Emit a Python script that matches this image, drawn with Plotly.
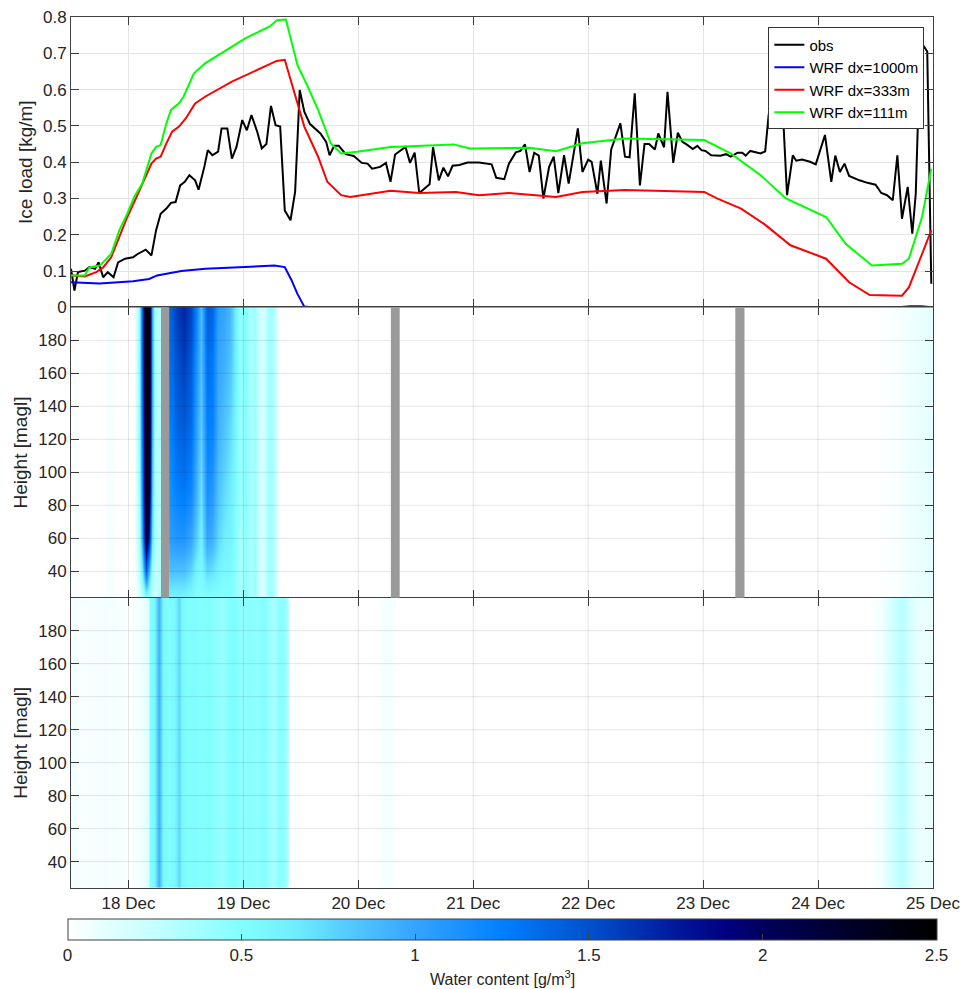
import numpy as np
import plotly.graph_objects as go
from plotly.subplots import make_subplots

# ---------------- axis ticks ----------------
day_ticks = [18, 19, 20, 21, 22, 23, 24, 25]
day_labels = ["18 Dec", "19 Dec", "20 Dec", "21 Dec", "22 Dec", "23 Dec", "24 Dec", "25 Dec"]
load_ticks = [0, 0.1, 0.2, 0.3, 0.4, 0.5, 0.6, 0.7, 0.8]
height_ticks = [40, 60, 80, 100, 120, 140, 160, 180]
wc_ticks = [0, 0.5, 1, 1.5, 2, 2.5]

# ---------------- ice load (time in days of December) ----------------
obs_t = [17.50, 17.53, 17.56, 17.62, 17.66, 17.71, 17.74, 17.78, 17.82, 17.87, 17.91, 17.97,
         18.04, 18.08, 18.15, 18.20, 18.24, 18.28, 18.33, 18.37, 18.41, 18.45, 18.49, 18.53,
         18.58, 18.61, 18.66, 18.69, 18.73, 18.78, 18.81, 18.86, 18.90, 18.94, 18.99, 19.03,
         19.07, 19.12, 19.16, 19.20, 19.24, 19.28, 19.32, 19.36, 19.41, 19.45, 19.49, 19.53,
         19.58, 19.62, 19.67, 19.72, 19.75, 19.79, 19.83, 19.89, 19.96, 20.03, 20.08, 20.12,
         20.19, 20.24, 20.28, 20.32, 20.41, 20.45, 20.49, 20.53, 20.62, 20.65, 20.70, 20.74,
         20.78, 20.82, 20.88, 20.95, 21.05, 21.16, 21.20, 21.27, 21.31, 21.37, 21.41, 21.45,
         21.49, 21.53, 21.57, 21.61, 21.66, 21.70, 21.74, 21.79, 21.83, 21.91, 21.95, 22.00,
         22.03, 22.08, 22.11, 22.16, 22.20, 22.28, 22.32, 22.36, 22.405, 22.45, 22.49, 22.53,
         22.58, 22.61, 22.66, 22.69, 22.74, 22.78, 22.82, 22.865, 22.91, 22.95, 22.985, 23.02,
         23.07, 23.15, 23.20, 23.24, 23.30, 23.34, 23.37, 23.41, 23.50, 23.54, 23.57, 23.61,
         23.655, 23.70, 23.73, 23.78, 23.81, 23.86, 23.93, 23.98, 24.06, 24.115, 24.15, 24.19,
         24.23, 24.27, 24.36, 24.43, 24.50, 24.55, 24.60, 24.65, 24.69, 24.73, 24.78, 24.82,
         24.85, 24.89, 24.95, 24.985]
obs_v = [0.106, 0.046, 0.097, 0.101, 0.111, 0.106, 0.124, 0.083, 0.097, 0.083, 0.124, 0.134,
         0.138, 0.147, 0.159, 0.143, 0.212, 0.258, 0.272, 0.288, 0.290, 0.336, 0.346, 0.364,
         0.350, 0.324, 0.387, 0.433, 0.419, 0.429, 0.493, 0.493, 0.410, 0.442, 0.516, 0.488,
         0.530, 0.484, 0.438, 0.450, 0.555, 0.502, 0.498, 0.267, 0.240, 0.318, 0.599, 0.539,
         0.505, 0.493, 0.479, 0.456, 0.419, 0.445, 0.445, 0.422, 0.417, 0.398, 0.396, 0.382,
         0.387, 0.398, 0.346, 0.421, 0.442, 0.398, 0.426, 0.315, 0.339, 0.441, 0.350, 0.385,
         0.361, 0.390, 0.392, 0.399, 0.399, 0.394, 0.357, 0.353, 0.396, 0.427, 0.431, 0.449,
         0.373, 0.426, 0.418, 0.300, 0.387, 0.415, 0.315, 0.419, 0.341, 0.493, 0.373, 0.407,
         0.401, 0.313, 0.404, 0.286, 0.435, 0.507, 0.415, 0.413, 0.590, 0.336, 0.450, 0.450,
         0.435, 0.479, 0.441, 0.594, 0.398, 0.481, 0.456, 0.447, 0.436, 0.445, 0.433, 0.431,
         0.419, 0.418, 0.422, 0.415, 0.426, 0.426, 0.418, 0.431, 0.424, 0.430, 0.530, 0.571,
         0.521, 0.500, 0.309, 0.419, 0.404, 0.407, 0.401, 0.394, 0.475, 0.346, 0.418, 0.373,
         0.396, 0.362, 0.350, 0.343, 0.338, 0.315, 0.309, 0.295, 0.419, 0.244, 0.332, 0.203,
         0.313, 0.733, 0.705, 0.065]

wrf1000_t = [17.50, 17.75, 18.04, 18.18, 18.25, 18.46, 18.67, 18.95, 19.27, 19.36, 19.42,
             19.47, 19.53, 19.60, 24.70, 24.80, 24.90, 24.985]
wrf1000_v = [0.069, 0.066, 0.072, 0.078, 0.088, 0.100, 0.106, 0.111, 0.115, 0.111, 0.074,
             0.037, 0.002, 0.0, 0.0, 0.003, 0.003, 0.0]

wrf333_t = [17.50, 17.62, 17.72, 17.78, 17.85, 17.92, 17.99, 18.07, 18.12, 18.20, 18.24,
            18.28, 18.33, 18.38, 18.44, 18.50, 18.58, 18.67, 18.90, 19.19, 19.29, 19.36,
            19.42, 19.53, 19.65, 19.73, 19.85, 19.93, 20.28, 20.53, 20.85, 21.05, 21.31,
            21.72, 21.95, 22.32, 23.01, 23.12, 23.33, 23.53, 23.76, 24.07, 24.27, 24.45,
            24.73, 24.79, 24.905, 24.985]
wrf333_v = [0.088, 0.085, 0.097, 0.110, 0.138, 0.194, 0.249, 0.304, 0.341, 0.396, 0.410,
            0.415, 0.452, 0.484, 0.498, 0.521, 0.562, 0.581, 0.622, 0.664, 0.679, 0.682,
            0.618, 0.498, 0.415, 0.346, 0.309, 0.304, 0.321, 0.315, 0.318, 0.309, 0.315,
            0.304, 0.318, 0.323, 0.318, 0.300, 0.272, 0.230, 0.171, 0.134, 0.069, 0.034,
            0.032, 0.055, 0.147, 0.212]

wrf111_t = [17.50, 17.62, 17.66, 17.75, 17.81, 17.85, 17.92, 17.99, 18.05, 18.12, 18.20,
            18.24, 18.28, 18.33, 18.37, 18.44, 18.48, 18.57, 18.67, 18.90, 19.02, 19.23,
            19.29, 19.37, 19.47, 19.56, 19.65, 19.76, 19.85, 19.99, 20.28, 20.83, 20.97,
            21.49, 21.72, 21.95, 22.32, 23.01, 23.24, 23.50, 23.72, 24.07, 24.24, 24.47,
            24.73, 24.79, 24.905, 24.985]
wrf111_v = [0.088, 0.088, 0.110, 0.115, 0.134, 0.147, 0.212, 0.258, 0.304, 0.341, 0.424,
            0.442, 0.447, 0.507, 0.544, 0.562, 0.581, 0.645, 0.673, 0.719, 0.742, 0.774,
            0.791, 0.793, 0.668, 0.608, 0.544, 0.452, 0.424, 0.429, 0.442, 0.449, 0.438,
            0.440, 0.430, 0.452, 0.465, 0.461, 0.424, 0.364, 0.300, 0.249, 0.175, 0.115,
            0.120, 0.134, 0.249, 0.382]

# ---------------- water content, middle panel (g/m3) ----------------
mid_t = [17.50, 17.53, 17.57, 17.79, 17.83, 17.87, 17.91, 18.05, 18.09, 18.12, 18.15,
         18.18, 18.205, 18.23, 18.265, 18.30, 18.36, 18.42, 18.48, 18.54, 18.59, 18.635,
         18.68, 18.73, 18.78, 18.83, 18.88, 18.93, 18.97, 19.02, 19.06, 19.10, 19.14,
         19.18, 19.22, 19.26, 19.29, 19.31, 24.50, 24.70, 24.85, 25.00]
mid_heights = [25, 40, 60, 90, 130, 170, 200]
mid_h25 = [0, 0.03, 0, 0, 0.04, 0.03, 0, 0, 0.15, 0.30, 0.50, 0.40, 0.25, 0.20, 0.30, 0.50,
           0.60, 0.60, 0.60, 0.55, 0.50, 0.50, 0.50, 0.50, 0.50, 0.50, 0.50, 0.45, 0.35, 0.45,
           0.35, 0.40, 0.20, 0.20, 0.40, 0.35, 0.15, 0, 0, 0.03, 0.08, 0.12]
mid_h40 = [0, 0.03, 0, 0, 0.04, 0.03, 0, 0, 0.25, 0.60, 1.40, 0.90, 0.40, 0.25, 0.30, 0.50,
           0.85, 0.85, 0.85, 0.75, 0.60, 0.55, 0.75, 0.70, 0.60, 0.55, 0.55, 0.45, 0.35, 0.45,
           0.35, 0.40, 0.20, 0.20, 0.40, 0.35, 0.15, 0, 0, 0.03, 0.08, 0.12]
mid_h60 = [0, 0.03, 0, 0, 0.04, 0.03, 0, 0, 0.35, 1.00, 2.20, 1.70, 0.70, 0.30, 0.30, 0.50,
           1.05, 1.10, 1.10, 1.00, 0.80, 0.62, 1.00, 0.95, 0.75, 0.65, 0.60, 0.50, 0.35, 0.45,
           0.35, 0.40, 0.20, 0.20, 0.40, 0.35, 0.15, 0, 0, 0.03, 0.08, 0.12]
mid_h90 = [0, 0.03, 0, 0, 0.04, 0.03, 0, 0, 0.40, 1.20, 2.45, 2.20, 0.85, 0.30, 0.30, 0.50,
           1.15, 1.25, 1.30, 1.20, 0.95, 0.70, 1.15, 1.10, 0.85, 0.75, 0.65, 0.55, 0.40, 0.50,
           0.35, 0.40, 0.20, 0.20, 0.40, 0.35, 0.15, 0, 0, 0.03, 0.08, 0.12]
mid_h130 = [0, 0.03, 0, 0, 0.04, 0.03, 0, 0, 0.45, 1.30, 2.55, 2.40, 0.95, 0.30, 0.30, 0.50,
            1.25, 1.40, 1.45, 1.35, 1.05, 0.80, 1.25, 1.25, 0.95, 0.85, 0.75, 0.60, 0.40, 0.50,
            0.35, 0.40, 0.20, 0.20, 0.40, 0.35, 0.15, 0, 0, 0.03, 0.08, 0.12]
mid_h170 = [0, 0.03, 0, 0, 0.04, 0.03, 0, 0, 0.45, 1.40, 2.60, 2.50, 1.00, 0.30, 0.30, 0.50,
            1.35, 1.50, 1.60, 1.45, 1.15, 0.85, 1.35, 1.30, 1.00, 0.95, 0.85, 0.65, 0.45, 0.50,
            0.35, 0.40, 0.20, 0.20, 0.40, 0.35, 0.15, 0, 0, 0.03, 0.08, 0.12]
mid_h200 = [0, 0.03, 0, 0, 0.04, 0.03, 0, 0, 0.45, 1.40, 2.60, 2.50, 1.00, 0.30, 0.30, 0.50,
            1.40, 1.60, 1.70, 1.55, 1.25, 0.85, 1.45, 1.40, 1.05, 1.00, 0.90, 0.65, 0.45, 0.50,
            0.35, 0.40, 0.20, 0.20, 0.40, 0.35, 0.15, 0, 0, 0.03, 0.08, 0.12]

# periods without data in the middle panel
gap_start = [18.283, 20.283, 23.280]
gap_end = [18.353, 20.360, 23.360]

# ---------------- water content, bottom panel (g/m3, same at all heights) ----------------
low_heights = [25, 200]
low_t = [17.50, 17.53, 17.56, 17.70, 17.80, 17.95, 18.00, 18.05, 18.10, 18.14, 18.17,
         18.19, 18.22, 18.245, 18.265, 18.285, 18.30, 18.35, 18.40, 18.44, 18.47, 18.52,
         18.58, 18.64, 18.70, 18.76, 18.82, 18.87, 18.93, 18.99, 19.05, 19.12, 19.18,
         19.22, 19.27, 19.31, 19.36, 19.385, 19.40, 20.15, 20.22, 20.28, 20.34, 24.45,
         24.55, 24.62, 24.66, 24.73, 24.78, 24.84, 24.90, 25.00]
low_v = [0.04, 0.06, 0.03, 0.04, 0.05, 0.03, 0.0, 0.03, 0.05, 0.10, 0.15, 0.50, 0.55, 0.80,
         0.92, 0.75, 0.55, 0.52, 0.55, 0.75, 0.55, 0.50, 0.52, 0.48, 0.52, 0.45, 0.42, 0.50,
         0.52, 0.44, 0.48, 0.45, 0.50, 0.40, 0.36, 0.48, 0.44, 0.28, 0.0, 0.0, 0.04, 0.05,
         0.0, 0.0, 0.05, 0.15, 0.22, 0.30, 0.20, 0.12, 0.08, 0.10]

# ---------------- styling ----------------
FONT = "Liberation Sans, Arial, Helvetica, sans-serif"
AX = "#404040"
TXT = "#262626"
GRID = "#e4e4e4"

wc_colorscale = [
    [0.00, "#ffffff"], [0.10, "#c4ffff"], [0.20, "#82ffff"], [0.26, "#70eeff"],
    [0.32, "#55ccff"], [0.40, "#35a4ff"], [0.50, "#0080ff"], [0.60, "#0050cc"],
    [0.70, "#00189c"], [0.76, "#000080"], [0.80, "#00005c"], [0.90, "#000028"],
    [1.00, "#000000"],
]

fig = make_subplots(rows=3, cols=1, shared_xaxes=True, vertical_spacing=0)

for name, t, v, col in [("obs", obs_t, obs_v, "#000000"),
                        ("WRF dx=1000m", wrf1000_t, wrf1000_v, "#0000ff"),
                        ("WRF dx=333m", wrf333_t, wrf333_v, "#ff0000"),
                        ("WRF dx=111m", wrf111_t, wrf111_v, "#00ff00")]:
    fig.add_trace(go.Scatter(x=t, y=v, mode="lines", name=name,
                             line=dict(color=col, width=2)), row=1, col=1)

mid_z = np.array([mid_h25, mid_h40, mid_h60, mid_h90, mid_h130, mid_h170, mid_h200])
fig.add_trace(go.Heatmap(x=mid_t, y=mid_heights, z=mid_z, coloraxis="coloraxis",
                         zsmooth="best", showlegend=False, hoverinfo="skip"), row=2, col=1)

low_z = np.tile(np.array(low_v), (len(low_heights), 1))
fig.add_trace(go.Heatmap(x=low_t, y=low_heights, z=low_z, coloraxis="coloraxis",
                         zsmooth="best", showlegend=False, hoverinfo="skip"), row=3, col=1)

axis_common = dict(showline=True, linecolor=AX, linewidth=1, mirror="ticks",
                   ticks="inside", ticklen=8, tickcolor=AX, tickwidth=1,
                   tickfont=dict(family=FONT, size=17, color=TXT), zeroline=False)
title_font = dict(family=FONT, size=19, color=TXT)

for r in (1, 2, 3):
    fig.update_xaxes(range=[17.5, 25], tickvals=day_ticks, ticktext=day_labels,
                     showgrid=(r == 1), gridcolor=GRID, row=r, col=1, **axis_common)
fig.update_xaxes(showticklabels=True, row=3, col=1)

fig.update_yaxes(range=[0, 0.8], tickvals=load_ticks, showgrid=True, gridcolor=GRID,
                 title=dict(text="Ice load [kg/m]", font=title_font, standoff=5),
                 automargin=False, row=1, col=1, **axis_common)
for r in (2, 3):
    fig.update_yaxes(range=[24, 200], tickvals=height_ticks, showgrid=False,
                     title=dict(text="Height [magl]", font=title_font, standoff=5),
                     automargin=False, row=r, col=1, **axis_common)

# grid lines drawn over the water-content fields, then the data gaps on top
shapes = []
for k in ("2", "3"):
    for h in height_ticks:
        shapes.append(dict(type="line", xref=f"x{k} domain", yref=f"y{k}", x0=0, x1=1,
                           y0=h, y1=h, line=dict(color="rgba(0,0,0,0.10)", width=1),
                           layer="above"))
    for d in day_ticks[:-1]:
        shapes.append(dict(type="line", xref=f"x{k}", yref=f"y{k} domain", x0=d, x1=d,
                           y0=0, y1=1, line=dict(color="rgba(0,0,0,0.10)", width=1),
                           layer="above"))
for s, e in zip(gap_start, gap_end):
    shapes.append(dict(type="rect", xref="x2", yref="y2 domain", x0=s, x1=e, y0=0, y1=1,
                       fillcolor="#9a9a9a", line=dict(width=0), layer="above"))

fig.update_layout(
    width=972, height=989,
    margin=dict(l=71, r=33, t=17, b=101),
    paper_bgcolor="white", plot_bgcolor="white",
    font=dict(family=FONT, size=16, color=TXT),
    shapes=shapes,
    legend=dict(x=0.99, xanchor="right", y=0.988, yanchor="top",
                bgcolor="white", bordercolor="#333333", borderwidth=1,
                font=dict(family=FONT, size=15, color="#000000"),
                tracegroupgap=0, itemwidth=30),
    coloraxis=dict(
        colorscale=wc_colorscale, cmin=0, cmax=2.5,
        colorbar=dict(orientation="h", x=0.5, xanchor="center", y=-0.0356, yanchor="top",
                      lenmode="pixels", len=869, thickness=21, xpad=0, ypad=0,
                      outlinecolor=AX, outlinewidth=1,
                      tickvals=wc_ticks, ticks="inside", ticklen=6, tickcolor=AX,
                      tickfont=dict(family=FONT, size=17, color=TXT)),
    ),
    annotations=[dict(text="Water content [g/m<sup>3</sup>]", xref="paper", yref="paper",
                      x=0.5, y=-0.103, xanchor="center", yanchor="middle", showarrow=False,
                      font=dict(family=FONT, size=16, color=TXT))],
)

fig.write_html("out.html")
